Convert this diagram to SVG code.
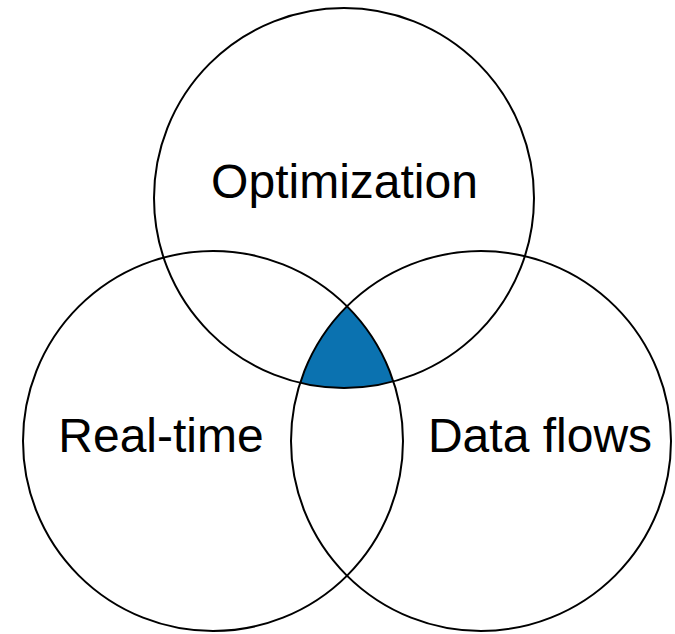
<svg xmlns="http://www.w3.org/2000/svg" width="675" height="634" viewBox="0 0 675 634">
<style>
.c{fill:none;stroke:#000;stroke-width:2}
.t{font-family:"Liberation Sans",Arial,sans-serif;font-size:48px;fill:#000;text-anchor:middle}
</style>
<rect width="675" height="634" fill="#fff"/>
<g id="center-region">
<path d="M347 306.3 A190 190 0 0 0 300.1 382.9 A190 190 0 0 0 393.4 381.5 A190 190 0 0 0 347 306.3 Z" fill="#0b72b0"/>
</g>
<g id="optimization">
<circle class="c" cx="344" cy="198" r="190"/>
<text class="t" x="344.5" y="198">Optimization</text>
</g>
<g id="real-time">
<circle class="c" cx="213" cy="441" r="190"/>
<text class="t" x="161" y="452">Real-time</text>
</g>
<g id="data-flows">
<circle class="c" cx="481" cy="441" r="190"/>
<text class="t" x="540" y="452">Data flows</text>
</g>
<g id="connectors"/>
</svg>
